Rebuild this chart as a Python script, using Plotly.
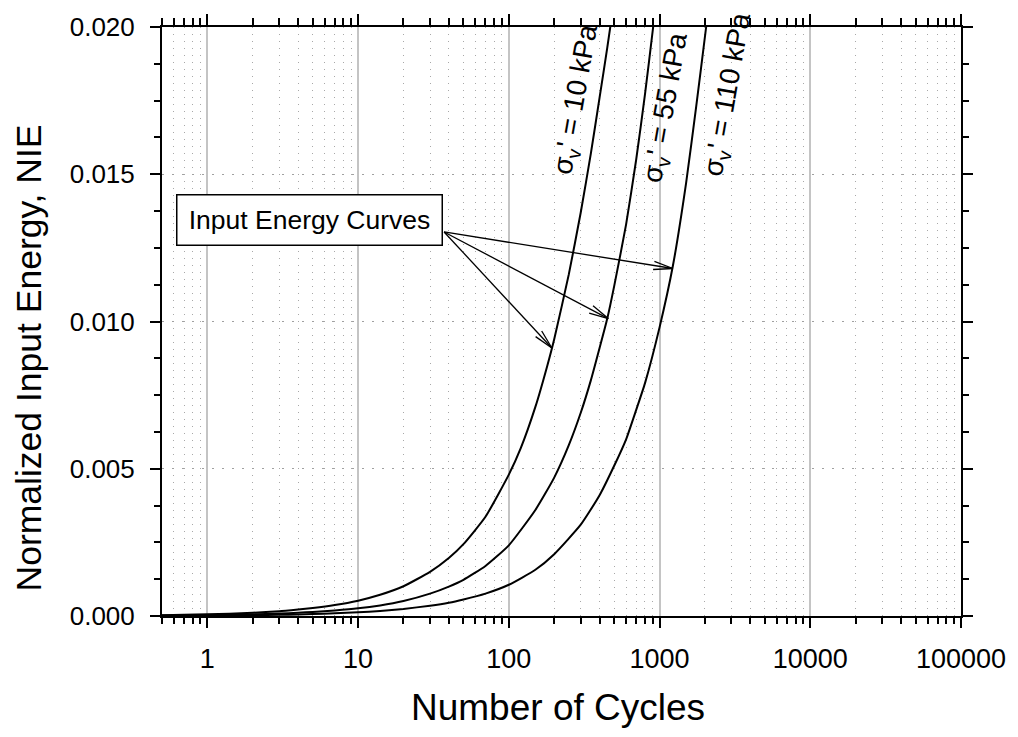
import math
import plotly.graph_objects as go

# ---------------- data ----------------
cycles_10kpa = [0.5, 0.7, 1, 1.4, 2, 3, 4, 5, 7, 10, 14, 20, 30, 40, 50, 70, 100, 120, 150, 180,
                200, 250, 300, 350, 400, 450, 471, 500]
nie_10kpa = [0.000029, 0.00004, 0.000057, 0.000079, 0.00011, 0.00016, 0.00022, 0.00027, 0.00037,
             0.00052, 0.00072, 0.00101, 0.0015, 0.00197, 0.00244, 0.00337, 0.0048, 0.0057, 0.0071,
             0.0085, 0.0094, 0.0116, 0.0137, 0.0157, 0.0176, 0.0193, 0.0200, 0.0210]

cycles_55kpa = [0.5, 0.7, 1, 1.4, 2, 3, 4, 5, 7, 10, 14, 20, 30, 40, 50, 70, 100, 150, 200, 250,
                300, 350, 400, 450, 500, 600, 700, 800, 907, 1000]
nie_55kpa = [0.000015, 0.00002, 0.00003, 0.000041, 0.000056, 0.000083, 0.00011, 0.00014, 0.00019,
             0.00026, 0.00036, 0.00051, 0.00076, 0.001, 0.00123, 0.0017, 0.0024, 0.0036, 0.0047,
             0.0058, 0.0069, 0.0080, 0.0091, 0.0101, 0.0112, 0.0133, 0.0155, 0.0177, 0.0200, 0.0220]

cycles_110kpa = [0.5, 0.7, 1, 1.4, 2, 3, 4, 5, 7, 10, 14, 20, 30, 40, 50, 70, 100, 150, 200, 300,
                 400, 500, 600, 700, 800, 1000, 1227, 1500, 1750, 2038, 2200]
nie_110kpa = [0.000007, 0.00001, 0.000014, 0.000019, 0.000027, 0.00004, 0.000052, 0.000065, 0.00009,
              0.000125, 0.00017, 0.00024, 0.00035, 0.00045, 0.00056, 0.00076, 0.00106, 0.00157,
              0.0021, 0.0031, 0.0041, 0.0051, 0.0060, 0.0070, 0.0079, 0.0098, 0.0119, 0.0147,
              0.0173, 0.0200, 0.0215]

series_labels = ["σ<sub>v</sub>' = 10 kPa", "σ<sub>v</sub>' = 55 kPa", "σ<sub>v</sub>' = 110 kPa"]
label_pos_cycles = [281, 1120, 2877]
label_pos_nie = [0.01755, 0.01725, 0.0177]

x_tick_vals = [1, 10, 100, 1000, 10000, 100000]
x_tick_text = ["1", "10", "100", "1000", "10000", "100000"]
y_tick_vals = [0.000, 0.005, 0.010, 0.015, 0.020]
y_tick_text = ["0.000", "0.005", "0.010", "0.015", "0.020"]

box_text = "Input Energy Curves"
box_cycles, box_nie = 4.73, 0.01345
arrow_tail = (37.2, 0.01304)
arrow_tips = [(193, 0.0091), (457, 0.0101), (1227, 0.0118)]

# ---------------- layout geometry ----------------
W, H = 1018, 737
ML, MR, MT, MB = 162, 52, 21, 121
PW, PH = W - ML - MR, H - MT - MB
XMIN, XMAX = math.log10(0.5), 5.0
YMIN, YMAX = 0.0, 0.020
FONT = "Arial, Liberation Sans, sans-serif"

minor_x = [m * 10 ** e for e in range(-1, 5) for m in range(2, 10) if 0.5 <= m * 10 ** e <= 100000]
minor_y = [i * 0.00125 for i in range(17)]


def to_px(x, y):
    px = ML + (math.log10(x) - XMIN) / (XMAX - XMIN) * PW
    py = MT + (1 - (y - YMIN) / (YMAX - YMIN)) * PH
    return px, py


def to_paper(px, py):
    return (px - ML) / PW, (MT + PH - py) / PH


fig = go.Figure()
for xs, ys in [(cycles_10kpa, nie_10kpa), (cycles_55kpa, nie_55kpa), (cycles_110kpa, nie_110kpa)]:
    fig.add_trace(go.Scatter(x=xs, y=ys, mode="lines",
                             line=dict(color="black", width=2, shape="spline", smoothing=0.5),
                             showlegend=False, hoverinfo="skip"))
# invisible trace to activate the mirrored (top/right) tick axes
fig.add_trace(go.Scatter(x=cycles_10kpa, y=nie_10kpa, xaxis="x2", yaxis="y2", mode="lines",
                         line=dict(width=0, color="rgba(0,0,0,0)"), showlegend=False, hoverinfo="skip"))

fig.update_layout(
    width=W, height=H,
    margin=dict(l=ML, r=MR, t=MT, b=MB),
    paper_bgcolor="white", plot_bgcolor="white",
    font=dict(family=FONT, color="black"),
    xaxis=dict(type="log", range=[XMIN, XMAX], tickvals=x_tick_vals, ticktext=x_tick_text,
               ticks="outside", ticklen=10, tickwidth=1.5, tickcolor="black",
               showline=True, linewidth=2, linecolor="black", zeroline=False,
               showgrid=True, gridcolor="#c4c4c4", gridwidth=1.5,
               tickfont=dict(family=FONT, size=27, color="black"), ticklabelstandoff=8,
               minor=dict(tickvals=minor_x, ticks="outside", ticklen=6, tickwidth=1.5, tickcolor="black",
                          showgrid=True, gridcolor="#a8a8a8", gridwidth=1, griddash="1px,6px")),
    xaxis2=dict(type="log", range=[XMIN, XMAX], overlaying="x", side="top", anchor="y2",
                tickvals=x_tick_vals, showticklabels=False,
                ticks="outside", ticklen=11, tickwidth=1.5, tickcolor="black",
                showline=True, linewidth=2, linecolor="black", showgrid=False, zeroline=False,
                minor=dict(tickvals=minor_x, ticks="outside", ticklen=7, tickwidth=1.5, tickcolor="black",
                           showgrid=False)),
    yaxis=dict(range=[YMIN, YMAX], tickvals=y_tick_vals, ticktext=y_tick_text,
               ticks="outside", ticklen=10, tickwidth=1.5, tickcolor="black",
               showline=True, linewidth=2, linecolor="black", zeroline=False,
               showgrid=True, gridcolor="#a0a0a0", gridwidth=1, griddash="2px,8px",
               tickfont=dict(family=FONT, size=26, color="black"), ticklabelstandoff=10,
               minor=dict(tickvals=minor_y, ticks="outside", ticklen=6, tickwidth=1.5, tickcolor="black",
                          showgrid=False)),
    yaxis2=dict(range=[YMIN, YMAX], overlaying="y", side="right", anchor="x2",
                tickvals=y_tick_vals, showticklabels=False,
                ticks="outside", ticklen=10, tickwidth=1.5, tickcolor="black",
                showline=True, linewidth=2, linecolor="black", showgrid=False, zeroline=False,
                minor=dict(tickvals=minor_y, ticks="outside", ticklen=6, tickwidth=1.5, tickcolor="black",
                           showgrid=False)),
)

annotations = []
# axis titles
annotations.append(dict(text="Number of Cycles", xref="paper", yref="paper",
                        x=to_paper(560, 0)[0], y=to_paper(0, 708)[1], showarrow=False,
                        xanchor="center", yanchor="middle", font=dict(family=FONT, size=37)))
annotations.append(dict(text="Normalized Input Energy, NIE", xref="paper", yref="paper",
                        x=to_paper(28, 0)[0], y=to_paper(0, 355)[1], showarrow=False, textangle=-90,
                        xanchor="center", yanchor="middle", font=dict(family=FONT, size=35.5)))
# curve labels
for lab, cx, cy in zip(series_labels, label_pos_cycles, label_pos_nie):
    annotations.append(dict(text=lab, x=math.log10(cx), y=cy, xref="x", yref="y", showarrow=False,
                            textangle=-80, xanchor="center", yanchor="middle",
                            font=dict(family=FONT, size=28)))
# boxed label
annotations.append(dict(text=box_text, x=math.log10(box_cycles), y=box_nie, xref="x", yref="y",
                        showarrow=False, xanchor="center", yanchor="middle",
                        bgcolor="white", bordercolor="black", borderwidth=1.5, borderpad=0,
                        width=264, height=49, font=dict(family=FONT, size=26.5)))
fig.update_layout(annotations=annotations)

# arrows with open V heads
shapes = []
tx, ty = to_px(*arrow_tail)
for tip in arrow_tips:
    hx, hy = to_px(*tip)
    shapes.append(dict(type="line", xref="paper", yref="paper",
                       x0=to_paper(tx, ty)[0], y0=to_paper(tx, ty)[1],
                       x1=to_paper(hx, hy)[0], y1=to_paper(hx, hy)[1],
                       line=dict(color="black", width=1.3)))
    ang = math.atan2(ty - hy, tx - hx)
    for d in (-0.21, 0.21):
        wx = hx + 20 * math.cos(ang + d)
        wy = hy + 20 * math.sin(ang + d)
        shapes.append(dict(type="line", xref="paper", yref="paper",
                           x0=to_paper(hx, hy)[0], y0=to_paper(hx, hy)[1],
                           x1=to_paper(wx, wy)[0], y1=to_paper(wx, wy)[1],
                           line=dict(color="black", width=1.3)))
fig.update_layout(shapes=shapes)

fig.write_html("out.html")
